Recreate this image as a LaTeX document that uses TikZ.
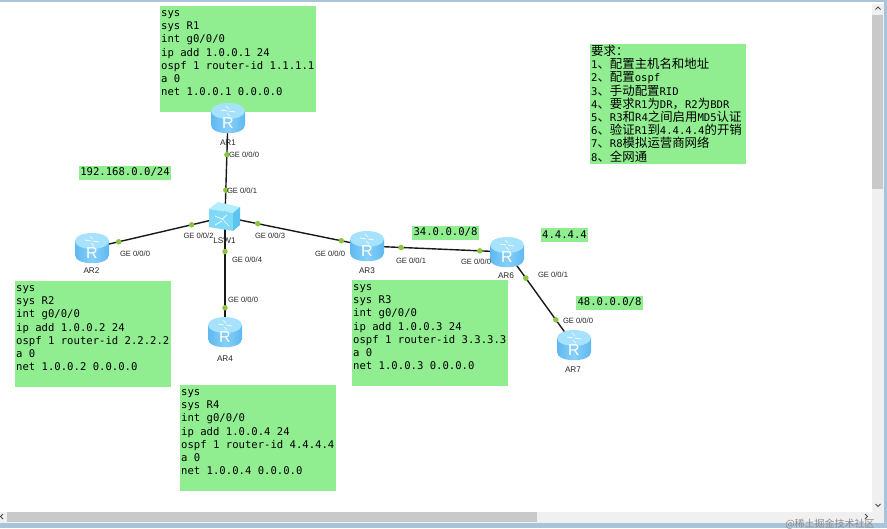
\documentclass[tikz,border=0pt]{standalone}
\usepackage{fontspec}
\setmainfont{Liberation Sans}
\setmonofont{DejaVu Sans Mono}
\newfontfamily\cjk{Noto Sans CJK SC}
\definecolor{boxgreen}{HTML}{90EE90}
\definecolor{portgreen}{HTML}{8CC63F}
\definecolor{iconside}{HTML}{5FB8F0}
\definecolor{iconmid}{HTML}{86D0FA}
\definecolor{icontop}{HTML}{A6E2FC}
\definecolor{switchfront}{HTML}{7FDAF8}
\definecolor{switchtop}{HTML}{B4EEFC}
\definecolor{switchside}{HTML}{5CC4EE}
\definecolor{barthumb}{HTML}{C9C9C9}
\definecolor{bartrack}{HTML}{F0F0F0}
\definecolor{frameblue}{HTML}{A9C3D8}
\newcommand{\zh}[1]{{\cjk\fontsize{12.4}{13.3}\selectfont #1}}
\newcommand{\codetext}[1]{\parbox[t][104pt][t]{154pt}{\strut #1}}
\tikzset{
  devnode/.style={inner sep=0pt,minimum size=0pt},
  link/.style={black!90,line width=1.4pt},
  portdot/.style={circle,fill=portgreen,inner sep=0pt,minimum size=5.5pt},
  portlabel/.style={font=\fontsize{7.6}{9}\selectfont,text=black!85,inner sep=0pt},
  devlabel/.style={font=\fontsize{8.2}{9}\selectfont,text=black!85,inner sep=0pt},
  codebox/.style={fill=boxgreen,anchor=north west,inner xsep=1pt,inner ysep=1pt,
    font=\ttfamily\fontsize{10.6}{13.2}\selectfont},
  netbox/.style={fill=boxgreen,inner xsep=1.5pt,inner ysep=1.5pt,minimum height=14pt,
    font=\ttfamily\fontsize{10.6}{12}\selectfont},
  router/.pic={
    \shade[left color=iconside,right color=iconside,middle color=iconmid]
      (-17,-7) -- (-17,7) .. controls (-17,18) and (17,18) .. (17,7) -- (17,-7) -- cycle;
    \fill[icontop] (0,-7) ellipse [x radius=17,y radius=8];
    \draw[white,line width=0.7pt] (-7,-8) -- (-1,-7) (7,-6) -- (1,-7) (-2,-12) -- (1,-9) (2,-2) -- (-1,-5);
    \node[text=white,inner sep=0pt,font=\fontsize{16}{16}\selectfont] at (0,5) {R};
  },
  switchbox/.pic={
    \fill[switchtop] (-16,-8) -- (-7,-15) -- (15,-10) -- (8,-4) -- cycle;
    \fill[switchfront] (-16,-8) -- (8,-4) -- (8,14) -- (-16,10) -- cycle;
    \fill[switchside] (8,-4) -- (15,-10) -- (15,8) -- (8,14) -- cycle;
    \draw[white,line width=0.7pt] (-10,-1) -- (-1,3) (2,-2) -- (-3,2) (-10,8) -- (-3,4) (4,9) -- (-1,4);
  }
}
\begin{document}
\begin{tikzpicture}[x=1pt,y=-1pt]
  \useasboundingbox (0,0) rectangle (887,528);
  \fill[white] (0,0) rectangle (887,528);

  % window frame and scroll bars
  \fill[frameblue] (0,0) rectangle (887,2);
  \fill[frameblue] (884,0) rectangle (887,528);
  \fill[bartrack] (0,512) rectangle (884,523);
  \fill[bartrack] (872,4) rectangle (884,523);
  \fill[barthumb] (7,512) rectangle (537,522);
  \fill[barthumb] (872,15) rectangle (883,189);
  \fill[frameblue] (0,523) rectangle (887,528);
  \draw[black!70,line width=0.8pt] (875.5,9.5) -- (878,7) -- (880.5,9.5);
  \draw[black!70,line width=0.8pt] (875.5,504) -- (878,506.5) -- (880.5,504);
  \draw[black!70,line width=0.8pt] (865,514) -- (867.5,516.5) -- (865,519);
  \draw[black!70,line width=0.8pt] (3,514) -- (0.5,516.5) -- (3,519);

  % text boxes
  \node[codebox] (cfgR1) at (160,6) {\codetext{sys\\sys R1\\int g0/0/0\\ip add 1.0.0.1 24\\ospf 1 router-id 1.1.1.1\\a 0\\net 1.0.0.1 0.0.0.0}};
  \node[codebox] (cfgR2) at (15,281) {\codetext{sys\\sys R2\\int g0/0/0\\ip add 1.0.0.2 24\\ospf 1 router-id 2.2.2.2\\a 0\\net 1.0.0.2 0.0.0.0}};
  \node[codebox] (cfgR3) at (352,280) {\codetext{sys\\sys R3\\int g0/0/0\\ip add 1.0.0.3 24\\ospf 1 router-id 3.3.3.3\\a 0\\net 1.0.0.3 0.0.0.0}};
  \node[codebox] (cfgR4) at (180,385) {\codetext{sys\\sys R4\\int g0/0/0\\ip add 1.0.0.4 24\\ospf 1 router-id 4.4.4.4\\a 0\\net 1.0.0.4 0.0.0.0}};
  \node[codebox] (notes) at (590,44) {\parbox[t][118pt][t]{154pt}{\lineskiplimit=-20pt\strut\zh{要求：}\\
    1\zh{、配置主机名和地址}\\
    2\zh{、配置}ospf\\
    3\zh{、手动配置}RID\\
    4\zh{、要求}R1\zh{为}DR\zh{，}R2\zh{为}BDR\\
    5\zh{、}R3\zh{和}R4\zh{之间启用}MD5\zh{认证}\\
    6\zh{、验证}R1\zh{到}4.4.4.4\zh{的开销}\\
    7\zh{、}R8\zh{模拟运营商网络}\\
    8\zh{、全网通}}};
  \node[netbox] (netA) at (125,172.5) {192.168.0.0/24};
  \node[netbox] (netB) at (445.5,232.5) {34.0.0.0/8};
  \node[netbox] (netC) at (564.5,235) {4.4.4.4};
  \node[netbox] (netD) at (609.5,302.5) {48.0.0.0/8};

  % devices
  \node[devnode] (AR1) at (228,118) {};
  \node[devnode] (AR2) at (92,248) {};
  \node[devnode] (AR3) at (367,246) {};
  \node[devnode] (AR4) at (225,332) {};
  \node[devnode] (AR6) at (507,252) {};
  \node[devnode] (AR7) at (574,345) {};
  \node[devnode] (LSW1) at (225,217) {};

  % links
  \draw[link] (AR1) -- node[portdot,pos=.37] (p1a) {} node[portdot,pos=.73] (p1b) {} (LSW1);
  \draw[link] (LSW1) -- node[portdot,pos=.25] (p2b) {} node[portdot,pos=.80] (p2a) {} (AR2);
  \draw[link] (LSW1) -- node[portdot,pos=.23] (p3b) {} node[portdot,pos=.82] (p3a) {} (AR3);
  \draw[link] (LSW1) -- node[portdot,pos=.30] (p4b) {} node[portdot,pos=.79] (p4a) {} (AR4);
  \draw[link] (AR3) -- node[portdot,pos=.243] (p5a) {} node[portdot,pos=.807] (p5b) {} (AR6);
  \draw[link] (AR6) -- node[portdot,pos=.28] (p6a) {} node[portdot,pos=.73] (p6b) {} (AR7);

  \pic at (AR1) {router};
  \pic at (AR2) {router};
  \pic at (AR3) {router};
  \pic at (AR4) {router};
  \pic at (AR6) {router};
  \pic at (AR7) {router};
  \pic at (LSW1) {switchbox};

  % names
  \node[devlabel] (nameAR1) at (228,143) {AR1};
  \node[devlabel] (nameAR2) at (91.5,271) {AR2};
  \node[devlabel] (nameAR3) at (367,271) {AR3};
  \node[devlabel] (nameAR4) at (225,359) {AR4};
  \node[devlabel] (nameAR6) at (506,276) {AR6};
  \node[devlabel] (nameAR7) at (573,370) {AR7};
  \node[devlabel] (nameLSW1) at (224.5,241) {LSW1};

  % port labels
  \node[portlabel] (ge1a) at (244,155) {GE 0/0/0};
  \node[portlabel] (ge1b) at (242,191) {GE 0/0/1};
  \node[portlabel] (ge2b) at (198.5,236) {GE 0/0/2};
  \node[portlabel] (ge2a) at (135,254) {GE 0/0/0};
  \node[portlabel] (ge3b) at (270,236) {GE 0/0/3};
  \node[portlabel] (ge3a) at (330,254) {GE 0/0/0};
  \node[portlabel] (ge4b) at (247,260) {GE 0/0/4};
  \node[portlabel] (ge4a) at (243,300) {GE 0/0/0};
  \node[portlabel] (ge5a) at (411,261) {GE 0/0/1};
  \node[portlabel] (ge5b) at (476,262) {GE 0/0/0};
  \node[portlabel] (ge6a) at (553,275) {GE 0/0/1};
  \node[portlabel] (ge6b) at (578,321) {GE 0/0/0};

  \node[inner sep=0pt,text=black!45,font=\cjk\fontsize{10}{10}\selectfont] (mark) at (830,524.5) {@稀土掘金技术社区};
\end{tikzpicture}
\end{document}
